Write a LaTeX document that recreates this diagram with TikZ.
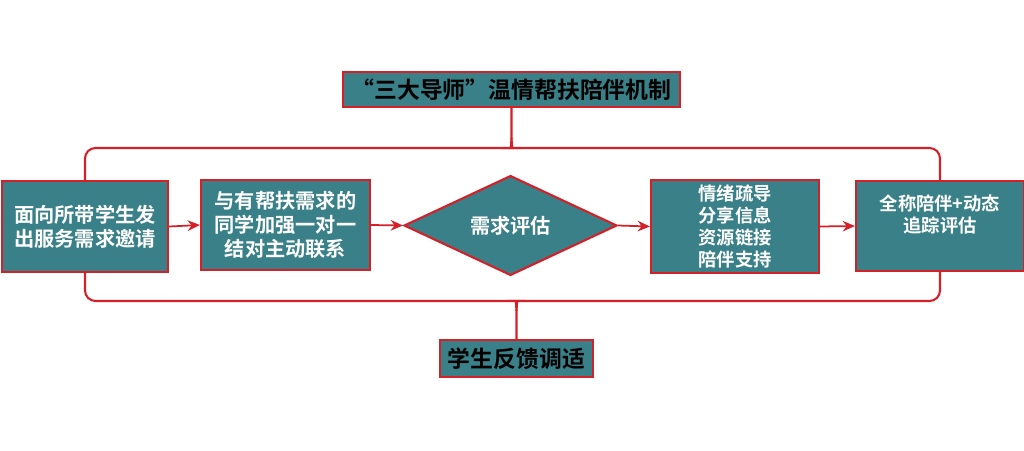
\documentclass[tikz,border=0pt]{standalone}
\usepackage{fontspec}
\setmainfont{Noto Sans CJK SC}[BoldFont={Noto Sans CJK SC Bold}]
\usetikzlibrary{shapes.geometric, arrows.meta}
\definecolor{tealbox}{RGB}{58,128,136}
\definecolor{redline}{RGB}{214,32,40}

\begin{document}
\begin{tikzpicture}[x=0.02cm, y=-0.02cm,
		box/.style={draw=redline, line width=1.2pt, fill=tealbox, inner sep=0pt, align=center, text=white, font=\bfseries\fontsize{11.5}{13.5}\selectfont},
		smallbox/.style={box, font=\bfseries\fontsize{10.4}{12.4}\selectfont},
		headbox/.style={box, text=black, font=\bfseries\fontsize{13}{15}\selectfont},
		arrow/.style={draw=redline, line width=1pt, -{Stealth[length=7pt, width=6pt]}},
		brace/.style={draw=redline, line width=1.2pt, rounded corners=6pt}]
		\useasboundingbox (0, 0) rectangle (1024, 450);
		\node[headbox, minimum width=6.74cm, minimum height=0.7cm](title) at (511.5, 89.5){“三大导师”温情帮扶陪伴机制};
		\node[box, minimum width=3.32cm, minimum height=1.82cm](request) at (85, 226.5){面向所带学生发\\出服务需求邀请};
		\node[box, minimum width=3.38cm, minimum height=1.8cm](pair) at (285.5, 225){与有帮扶需求的\\同学加强一对一\\结对主动联系};
		\node[box, diamond, minimum width=4.26cm, minimum height=1.9cm](assess) at (510.5, 225.5){需求评估};
		\node[smallbox, minimum width=3.36cm, minimum height=1.86cm](support) at (735, 226.5){情绪疏导\\分享信息\\资源链接\\陪伴支持};
		\node[smallbox, minimum width=3.36cm, minimum height=1.8cm](track) at (940, 226){全称陪伴+动态\\追踪评估\\[2pt]};
		\node[headbox, minimum width=3.06cm, minimum height=0.74cm](feedback) at (516.5, 358.5){学生反馈调适};
		\coordinate (toptip) at (511.5, 138);
		\coordinate (bottip) at (516.5, 311);
		\draw[arrow](request.east)--(pair.west);
		\draw[arrow](pair.east)--(assess.west);
		\draw[arrow](assess.east)--(support.west);
		\draw[arrow](support.east)--(track.west);
		\draw[brace](request.north)|-(503, 148)[sharp corners]..controls(509.5, 148)and(511.5, 145)..(toptip)--(title.south);
		\draw[brace](track.north)|-(520, 148)[sharp corners]..controls(513.5, 148)and(511.5, 145)..(toptip);
		\draw[brace](request.south)|-(508, 301)[sharp corners]..controls(514.5, 301)and(516.5, 304)..(bottip)--(feedback.north);
		\draw[brace](track.south)|-(525, 301)[sharp corners]..controls(518.5, 301)and(516.5, 304)..(bottip);
	\end{tikzpicture}
\end{document}
